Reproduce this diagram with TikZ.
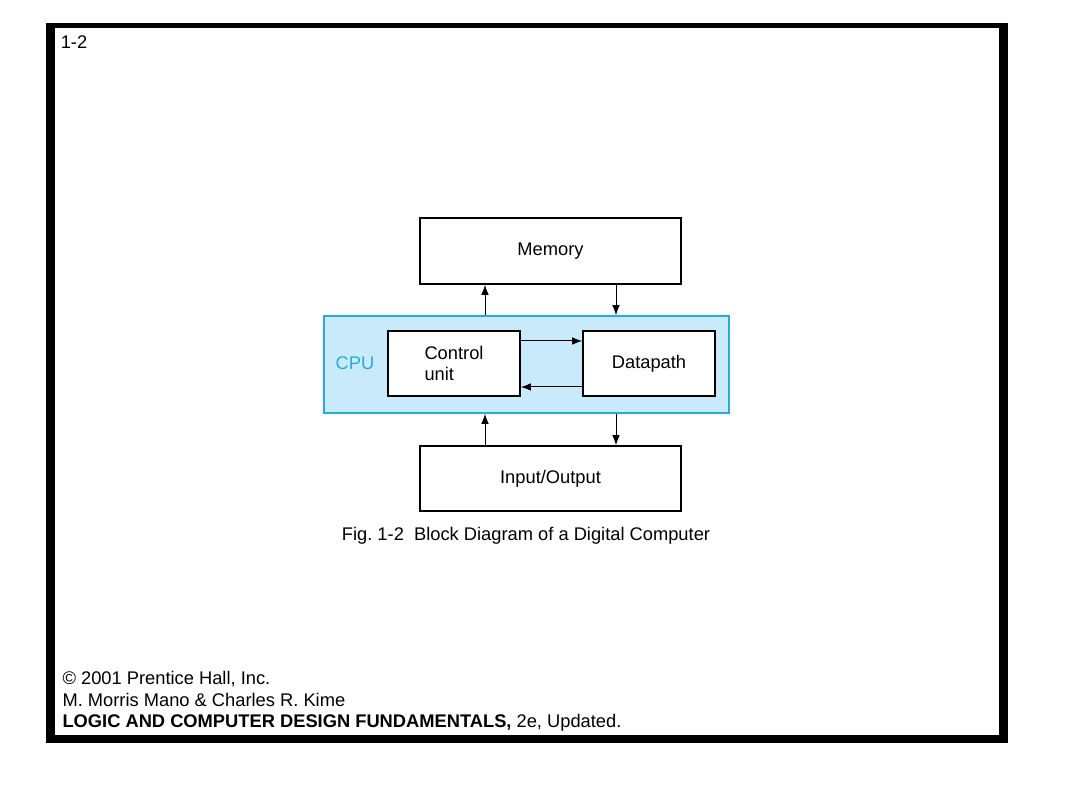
\documentclass[tikz,border=0pt]{standalone}
\usepackage{fontspec}
\setmainfont{Liberation Sans}
\usetikzlibrary{arrows.meta}
\definecolor{cpublue}{RGB}{41,171,226}
\definecolor{cpufill}{RGB}{200,234,250}
\frenchspacing

\tikzset{
  unit/.style={draw,line width=1.6pt,fill=white,inner sep=0pt},
  link/.style={line width=1pt,-{Latex[length=10pt,width=7.5pt]}},
}

\begin{document}
\begin{tikzpicture}[x=1pt,y=-1pt,line join=miter,font=\fontsize{18.3}{21.5}\selectfont]
  \useasboundingbox (0,0) rectangle (1080,810);
  % slide frame
  \fill[black] (46,23) rectangle (1008,743);
  \fill[white] (55,28) rectangle (999,735);
  \node (slideno) at (74,42) {1-2};

  % blocks
  \node[unit,minimum width=261,minimum height=66] (mem) at (550.5,251) {Memory};
  \node[draw=cpublue,fill=cpufill,line width=1.6pt,minimum width=405,
    minimum height=97] (cpu) at (526.5,364.5) {};
  \node[text=cpublue] (cpulabel) at (355,363) {CPU};
  \node[unit,minimum width=132,minimum height=65,align=left] (ctrl)
    at (454,363.5) {Control\\unit};
  \node[unit,minimum width=132,minimum height=65] (dp) at (649,363.5) {Datapath};
  \node[unit,minimum width=261,minimum height=65] (io) at (550.5,478.5)
    {Input/Output};

  % connectors
  \coordinate (left) at (485,0);
  \coordinate (right) at (616,0);
  \coordinate (fwd) at (0,341);
  \coordinate (back) at (0,387);
  \draw[link] (left |- cpu.north) -- (left |- mem.south);
  \draw[link] (right |- mem.south) -- (right |- cpu.north);
  \draw[link] (fwd -| ctrl.east) -- (fwd -| dp.west);
  \draw[link] (back -| dp.west) -- (back -| ctrl.east);
  \draw[link] (left |- io.north) -- (left |- cpu.south);
  \draw[link] (right |- cpu.south) -- (right |- io.north);

  \node (caption) at (526,535.5) {Fig. 1-2\ \ Block Diagram of a Digital Computer};

  \node[align=left,anchor=west] (credits) at (59,701.5)
    {© 2001 Prentice Hall, Inc.\\
     M. Morris Mano \& Charles R. Kime\\
     \textbf{LOGIC AND COMPUTER DESIGN FUNDAMENTALS,} 2e, Updated.};
\end{tikzpicture}
\end{document}
